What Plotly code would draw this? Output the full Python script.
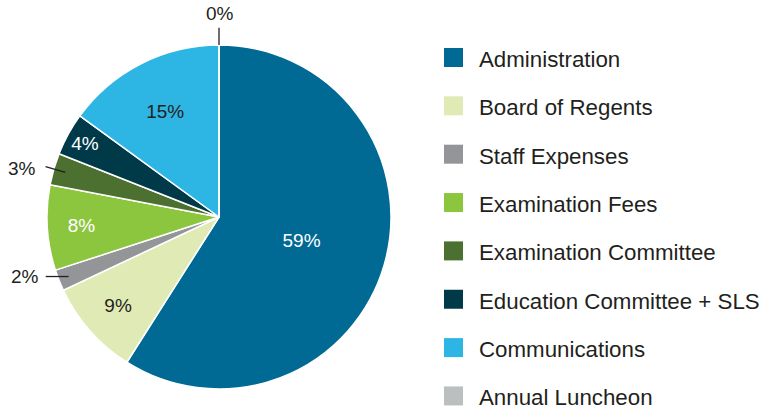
import math
import plotly.graph_objects as go

# ---- data ----
labels = ["Administration", "Board of Regents", "Staff Expenses", "Examination Fees",
          "Examination Committee", "Education Committee + SLS", "Communications", "Annual Luncheon"]
values = [59, 9, 2, 8, 3, 4, 15, 0]
colors = ["#006a94", "#dfeab5", "#939598", "#8cc63f", "#4c7030", "#003a48", "#2db6e4", "#bbbfc0"]
text_colors = ["#ffffff", "#231f20", "#ffffff", "#ffffff", "#ffffff", "#ffffff", "#231f20", "#231f20"]
outside_labels = ["Staff Expenses", "Examination Committee", "Annual Luncheon"]

FW, FH = 778, 414
CX, CY, R = 219, 217, 172   # pie centre / radius in pixels

FONT = "Liberation Sans, Arial, Helvetica, sans-serif"
DARK = "#231f20"


def px2paper(x, y):
    return x / FW, 1 - y / FH


positions = ["none" if lab in outside_labels else "inside" for lab in labels]

d0 = px2paper(CX - R, CY + R)
d1 = px2paper(CX + R, CY - R)

fig = go.Figure(go.Pie(
    labels=labels,
    values=values,
    sort=False,
    direction="clockwise",
    rotation=0,
    marker=dict(colors=colors, line=dict(color="#ffffff", width=1.5)),
    textposition=positions,
    texttemplate="%{percent:.0%}",
    insidetextorientation="horizontal",
    insidetextfont=dict(family=FONT, size=19, color=text_colors),
    domain=dict(x=[d0[0], d1[0]], y=[d0[1], d1[1]]),
    showlegend=False,
    hoverinfo="label+percent",
))

shapes = []
annotations = []

# outside labels with leader lines, placed from the data angles
total = sum(values)
cum = 0
for lab, v in zip(labels, values):
    mid = (cum + v / 2) / total * 2 * math.pi
    cum += v
    if lab not in outside_labels:
        continue
    sx, sy = math.sin(mid), -math.cos(mid)
    pct = f"{round(v / total * 100)}%"
    font = dict(family=FONT, size=19, color=DARK)
    if v == 0:
        # tick straight up from the rim
        x0, y0 = CX + sx * R, CY + sy * R
        x1, y1 = CX + sx * R * 1.10, CY + sy * R * 1.10
        tx, ty, xa = x1 + 1, y1 - 14, "center"
    elif sy > 0:
        # horizontal leader
        x0, y0 = CX + sx * R * 0.94, CY + sy * R * 0.94
        x1, y1 = x0 - 23, y0
        tx, ty, xa = x1 - 5, y1, "right"
    else:
        # radial leader
        x0, y0 = CX + sx * R * 0.93, CY + sy * R * 0.93
        x1, y1 = CX + sx * R * 1.05, CY + sy * R * 1.05
        tx, ty, xa = x1 - 8, y1 + 2, "right"
    p0 = px2paper(x0, y0)
    p1 = px2paper(x1, y1)
    shapes.append(dict(type="line", xref="paper", yref="paper",
                       x0=p0[0], y0=p0[1], x1=p1[0], y1=p1[1],
                       line=dict(color=DARK, width=1.3)))
    t = px2paper(tx, ty)
    annotations.append(dict(x=t[0], y=t[1], xref="paper", yref="paper", text=pct,
                            showarrow=False, xanchor=xa, yanchor="middle", font=font))

# custom legend
LX, LY0, LSTEP, SQ = 444, 57.5, 48.35, 19
for i, (lab, col) in enumerate(zip(labels, colors)):
    cy = LY0 + i * LSTEP
    a = px2paper(LX, cy + SQ / 2)
    b = px2paper(LX + SQ, cy - SQ / 2)
    shapes.append(dict(type="rect", xref="paper", yref="paper",
                       x0=a[0], y0=a[1], x1=b[0], y1=b[1],
                       fillcolor=col, line=dict(width=0)))
    t = px2paper(477, cy + 2)
    annotations.append(dict(x=t[0], y=t[1], xref="paper", yref="paper", text=lab,
                            showarrow=False, xanchor="left", yanchor="middle",
                            font=dict(family=FONT, size=22.3, color=DARK)))

fig.update_layout(
    width=FW, height=FH,
    margin=dict(l=0, r=0, t=0, b=0),
    paper_bgcolor="#ffffff",
    plot_bgcolor="#ffffff",
    shapes=shapes,
    annotations=annotations,
)

fig.write_html(
    "out.html",
    config={"displayModeBar": False},
    post_script="document.body.style.margin='0';document.body.style.overflow='hidden';",
)
